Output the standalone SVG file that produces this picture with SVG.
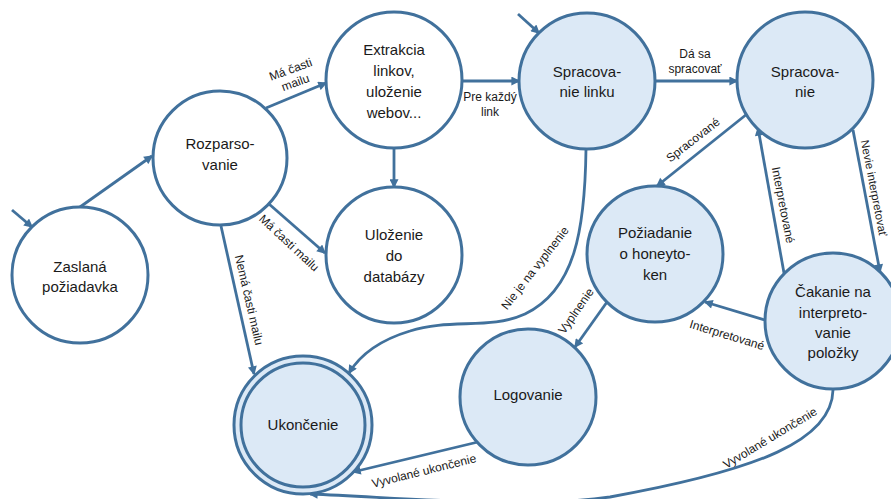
<svg xmlns="http://www.w3.org/2000/svg" width="891" height="499" viewBox="0 0 891 499">
<style>
.n{stroke:#41719C;stroke-width:3;fill:#fff}
.b{fill:#DCE9F6}
.t{font-family:"Liberation Sans",Arial,sans-serif;font-size:15px;fill:#1a1a1a;text-anchor:middle}
.l{font-family:"Liberation Sans",Arial,sans-serif;font-size:12px;fill:#1a1a1a;text-anchor:middle}
.c{dominant-baseline:central}
.e{stroke:#41719C;stroke-width:2.8;fill:none;marker-end:url(#ah)}
</style>
<defs>
<marker id="ah" viewBox="0 0 10 10" refX="8.5" refY="5" markerWidth="10" markerHeight="9" markerUnits="userSpaceOnUse" orient="auto"><path d="M0,0 L10,5 L0,10 z" fill="#41719C"/></marker>
</defs>
<rect width="891" height="499" fill="#fff"/>
<g id="connectors">
<path class="e" d="M12,210 L32,227"/>
<path class="e" d="M518,14 L539,33"/>
<path class="e" d="M80,207 L152,156"/>
<path class="e" d="M266,108 L326,83"/>
<path class="e" d="M269,204 L325,253"/>
<path class="e" d="M221,226 L254,374"/>
<path class="e" d="M394,148 L394,187"/>
<path class="e" d="M462,81 L519,81"/>
<path class="e" d="M655,81 L737,81"/>
<path class="e" d="M747,114 L657,186"/>
<path class="e" d="M784,273 L758,128"/>
<path class="e" d="M853,130 L880,272"/>
<path class="e" d="M765,320 L705,302"/>
<path class="e" d="M607,302 L575,347"/>
<path class="e" d="M478,442 L353,472"/>
<path class="e" d="M586,149 C585,230 575,290 525,314 C490,330 450,318 410,331 C380,340 360,355 349,373"/>
<path class="e" d="M833,390 C832,440 760,470 610,497 C530,508 440,500 310,494"/>
<text class="l c" transform="translate(293,76) rotate(-20)"><tspan x="0" y="-7">Má časti</tspan><tspan x="0" y="7">mailu</tspan></text>
<text class="l c" transform="translate(289,243) rotate(43)">Má časti mailu</text>
<text class="l c" transform="translate(249,300) rotate(77)">Nemá časti mailu</text>
<text class="l" x="490" y="101">Pre každý</text>
<text class="l" x="490" y="116">link</text>
<text class="l" x="695" y="58">Dá sa</text>
<text class="l" x="695" y="73">spracovať</text>
<text class="l c" transform="translate(693,140) rotate(-38)">Spracované</text>
<text class="l c" transform="translate(783,205) rotate(79)">Interpretované</text>
<text class="l c" transform="translate(874,188) rotate(79)" style="font-size:11.5px">Nevie interpretovať</text>
<text class="l c" transform="translate(727,335) rotate(17)">Interpretované</text>
<text class="l c" transform="translate(535,268) rotate(-52)">Nie je na vyplnenie</text>
<text class="l c" transform="translate(576,311) rotate(-55)">Vyplnenie</text>
<text class="l c" transform="translate(424,471) rotate(-14)">Vyvolané ukončenie</text>
<text class="l c" transform="translate(770,438) rotate(-31)">Vyvolané ukončenie</text>
</g>
<g id="zaslana"><circle class="n" cx="80" cy="275" r="68"/><text class="t" x="80" y="272">Zaslaná</text><text class="t" x="80" y="292">požiadavka</text></g>
<g id="rozparsovanie"><circle class="n" cx="220" cy="158" r="67"/><text class="t" x="220" y="149">Rozparso-</text><text class="t" x="220" y="170">vanie</text></g>
<g id="extrakcia"><circle class="n" cx="394" cy="80" r="68"/><text class="t" x="394" y="55">Extrakcia</text><text class="t" x="394" y="76">linkov,</text><text class="t" x="394" y="97">uloženie</text><text class="t" x="394" y="118">webov...</text></g>
<g id="ulozenie"><circle class="n" cx="394" cy="255" r="68"/><text class="t" x="394" y="240">Uloženie</text><text class="t" x="394" y="261">do</text><text class="t" x="394" y="282">databázy</text></g>
<g id="spracovanie-linku"><circle class="n b" cx="587" cy="81" r="68"/><text class="t" x="587" y="77">Spracova-</text><text class="t" x="587" y="97">nie linku</text></g>
<g id="spracovanie"><circle class="n b" cx="805" cy="80" r="68"/><text class="t" x="805" y="77">Spracova-</text><text class="t" x="805" y="97">nie</text></g>
<g id="poziadanie"><circle class="n b" cx="655" cy="254" r="68"/><text class="t" x="655" y="238">Požiadanie</text><text class="t" x="655" y="259">o honeyto-</text><text class="t" x="655" y="280">ken</text></g>
<g id="cakanie"><circle class="n b" cx="833" cy="321" r="68"/><text class="t" x="833" y="297">Čakanie na</text><text class="t" x="833" y="318">interpreto-</text><text class="t" x="833" y="338">vanie</text><text class="t" x="833" y="358">položky</text></g>
<g id="logovanie"><circle class="n b" cx="528" cy="397" r="68"/><text class="t" x="528" y="400">Logovanie</text></g>
<g id="ukoncenie"><circle class="n b" cx="303" cy="425" r="69"/><circle class="n b" cx="303" cy="425" r="62"/><text class="t" x="303" y="430">Ukončenie</text></g>
</svg>
